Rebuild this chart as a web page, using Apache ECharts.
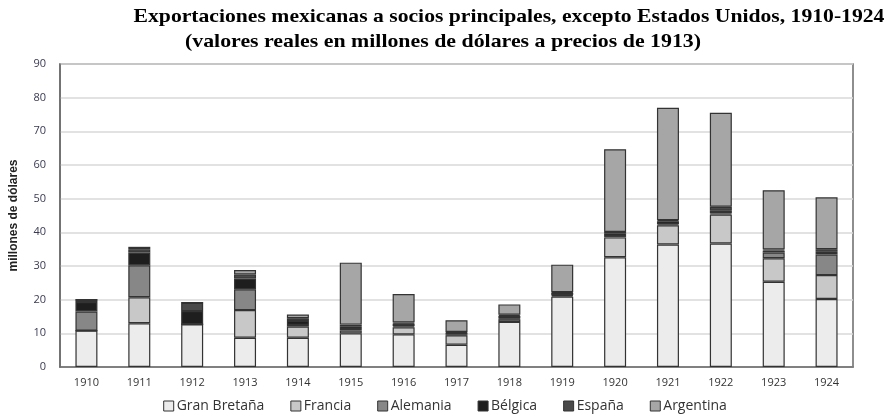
<!DOCTYPE html>
<html><head><meta charset="utf-8">
<script src="https://cdn.jsdelivr.net/npm/echarts@6/dist/echarts.min.js"></script>
<style>html,body{margin:0;padding:0;background:#fff}#c{width:890px;height:419px}</style>
</head><body><div id="c"></div>
<script>
const years = ['1910','1911','1912','1913','1914','1915','1916','1917','1918','1919','1920','1921','1922','1923','1924'];
const granBretana = [10.8,13.0,12.7,8.7,8.7,10.0,9.7,6.6,13.4,20.9,32.6,36.4,36.7,25.3,20.2];
const francia     = [0,7.7,0,8.2,3.3,0.8,2.1,2.8,0.8,0.3,5.9,5.7,8.6,7.0,7.1];
const alemania    = [5.7,9.5,0,6.2,0.5,0.5,0.3,0.2,0.2,0.2,0.4,0.3,0.3,1.7,6.1];
const belgica     = [2.8,3.8,3.9,3.2,1.2,0.8,0.8,0.6,0.8,0.6,0.8,0.9,0.8,0.6,0.8];
const espana      = [0.7,1.0,2.5,1.2,0.8,0.5,0.3,0.2,0.3,0.2,0.4,0.3,1.2,0.3,0.8];
const argentina   = [0,0.7,0,1.3,1.1,18.4,8.5,3.5,3.1,8.2,24.6,33.4,27.9,17.6,15.4];
const seriesNames = ['Gran Bretaña','Francia','Alemania','Bélgica','España','Argentina'];
const seriesData = [granBretana,francia,alemania,belgica,espana,argentina];
const colors = ['#ececec','#c8c8c8','#878787','#1e1e1e','#4a4a4a','#a6a6a6'];
const yTicks = [0,10,20,30,40,50,60,70,80,90];
const titleLines = ['Exportaciones mexicanas a socios principales, excepto Estados Unidos, 1910-1924',
                    '(valores reales en millones de dólares a precios de 1913)'];

const chart = echarts.init(document.getElementById('c'));
const titleFont = 'bold 19px "Liberation Serif"';
chart.setOption({
  animation:false,
  graphic:[
    {type:'text', x:509, y:17, scaleX:1.14, originX:0, originY:0,
     style:{text:titleLines[0], font:titleFont, fill:'#000', textAlign:'center', textVerticalAlign:'middle'}},
    {type:'text', x:443, y:42, scaleX:1.15, originX:0, originY:0,
     style:{text:titleLines[1], font:titleFont, fill:'#000', textAlign:'center', textVerticalAlign:'middle'}}
  ],
  legend:{
    data:seriesNames, bottom:1, left:'center', itemWidth:10, itemHeight:10, itemGap:26,
    icon:'rect',
    textStyle:{fontFamily:'Open Sans',fontSize:14,color:'#333',padding:[0,0,0,-2]},
    itemStyle:{borderColor:'#333',borderWidth:1}
  },
  grid:{left:55,right:37,top:64,bottom:52,show:true,borderColor:'#6a6a6a',borderWidth:1.5,backgroundColor:'transparent'},
  xAxis:{
    type:'category', data:years,
    axisLine:{lineStyle:{color:'#6a6a6a',width:1.5}},
    axisTick:{show:false},
    axisLabel:{fontFamily:'Open Sans',fontSize:11,color:'#333',margin:10}
  },
  yAxis:{
    type:'value', min:0, max:90, interval:10,
    name:'millones de dólares', nameLocation:'middle', nameGap:40, nameRotate:90,
    nameTextStyle:{fontFamily:'Liberation Sans Narrow, Liberation Sans',fontWeight:'bold',fontSize:12,color:'#222'},
    axisLine:{show:true,lineStyle:{color:'#6a6a6a',width:1.5}},
    axisTick:{show:false},
    splitLine:{lineStyle:{color:'#d9d9d9',width:1.5}},
    axisLabel:{fontFamily:'Open Sans',fontSize:11,color:'#3a3a55',margin:14,
      formatter:v=>yTicks.includes(v)?String(v):''}
  },
  series:seriesNames.map((n,i)=>({
    name:n, type:'bar', stack:'total', barWidth:22,
    data:seriesData[i],
    itemStyle:{color:colors[i],borderColor:'#333',borderWidth:1.2}
  }))
});
</script></body></html>
